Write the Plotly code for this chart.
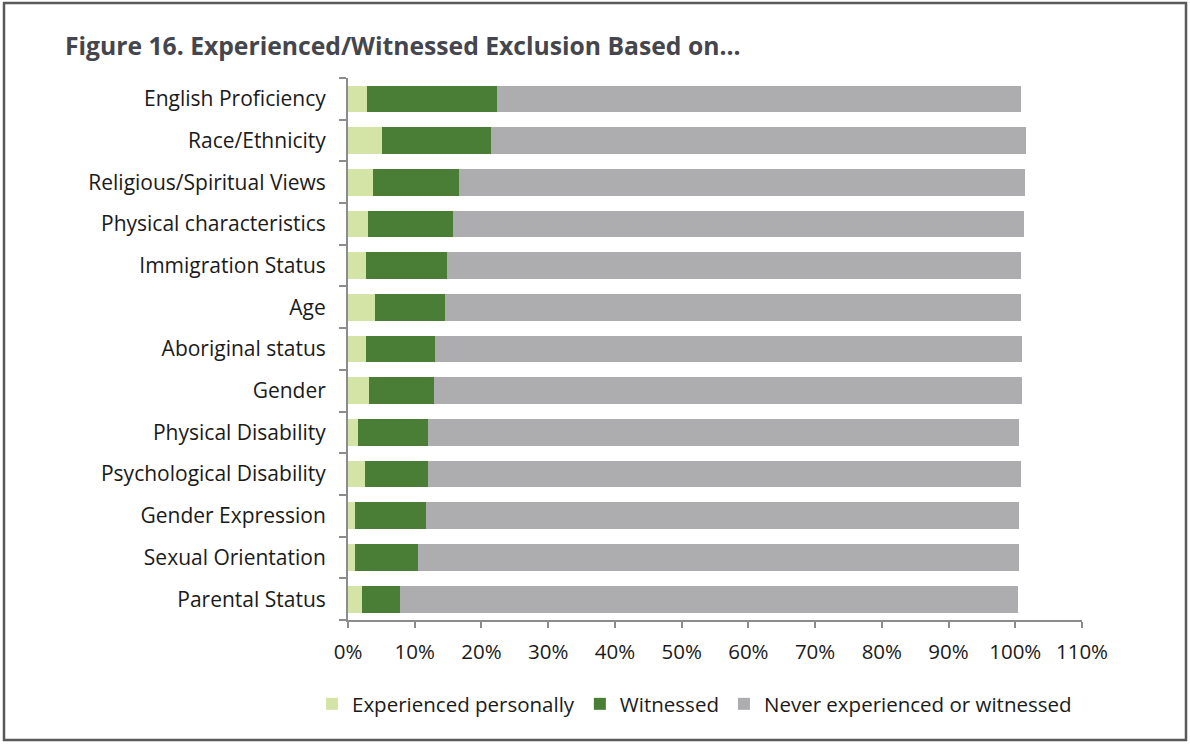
import plotly.graph_objects as go

# Exclusion categories, top to bottom
categories = [
    "English Proficiency", "Race/Ethnicity", "Religious/Spiritual Views",
    "Physical characteristics", "Immigration Status", "Age",
    "Aboriginal status", "Gender", "Physical Disability",
    "Psychological Disability", "Gender Expression", "Sexual Orientation",
    "Parental Status",
]

# Shares of respondents (%)
experienced = [2.8, 5.1, 3.7, 3.0, 2.7, 4.1, 2.7, 3.1, 1.5, 2.5, 1.1, 1.0, 2.1]
witnessed = [19.6, 16.3, 12.9, 12.8, 12.2, 10.5, 10.3, 9.8, 10.5, 9.5, 10.6, 9.5, 5.7]
never = [78.5, 80.2, 84.8, 85.5, 85.9, 86.3, 88.0, 88.1, 88.6, 88.9, 88.9, 90.1, 92.6]

x_ticks = [0, 10, 20, 30, 40, 50, 60, 70, 80, 90, 100, 110]
x_tick_labels = [f"{v}%" for v in x_ticks]

series = [
    ("Experienced personally", experienced, "#D4E4A6"),
    ("Witnessed", witnessed, "#4A7E37"),
    ("Never experienced or witnessed", never, "#ADADAF"),
]

FONT = "Open Sans, Liberation Sans, Arial, sans-serif"

fig = go.Figure()
for name, vals, color in series:
    fig.add_trace(go.Bar(
        y=categories, x=vals, name=name, orientation="h",
        marker=dict(color=color, line=dict(width=0)),
        hoverinfo="x+y+name",
    ))

W, H = 1190, 744
L, R, T, B = 348, 108, 78, 124
pw, ph = W - L - R, H - T - B


def px_x(p):
    return (p - L) / pw


def px_y(p):
    return (H - B - p) / ph


fig.update_layout(
    width=W, height=H,
    margin=dict(l=L, r=R, t=T, b=B, pad=0, autoexpand=False),
    paper_bgcolor="white", plot_bgcolor="white",
    barmode="stack", bargap=0.36,
    font=dict(family=FONT, size=21, color="#1a1a1a"),
    showlegend=True,
    legend=dict(
        orientation="h",
        x=px_x(312), xanchor="left",
        y=px_y(704), yanchor="middle",
        font=dict(size=20.5, color="#1a1a1a"),
        traceorder="normal", itemwidth=30,
    ),
    xaxis=dict(
        range=[0, 110], tickvals=x_ticks, ticktext=x_tick_labels,
        showgrid=False, zeroline=False,
        showline=True, linecolor="#8c8c8c", linewidth=2,
        ticks="outside", ticklen=6, tickcolor="#8c8c8c", tickwidth=1.5,
        ticklabelstandoff=6, tickfont=dict(size=20.5),
    ),
    yaxis=dict(
        categoryorder="array", categoryarray=categories[::-1],
        showgrid=False, zeroline=False,
        showline=True, linecolor="#8c8c8c", linewidth=2,
        ticks="outside", ticklen=7, tickcolor="#8c8c8c", tickwidth=1.5,
        tickson="boundaries", ticklabelstandoff=16,
    ),
    annotations=[dict(
        text="<b>Figure 16. Experienced/Witnessed Exclusion Based on...</b>",
        xref="paper", yref="paper", x=px_x(63), y=px_y(45),
        xanchor="left", yanchor="middle", showarrow=False,
        font=dict(family=FONT, size=24.7, color="#45454d"),
    )],
    shapes=[dict(
        type="rect", xref="paper", yref="paper",
        x0=px_x(4), x1=px_x(1186), y0=px_y(3), y1=px_y(740),
        line=dict(color="#5a5a5a", width=2.5), fillcolor="rgba(0,0,0,0)",
        layer="below",
    )],
)

fig.write_html("out.html")
